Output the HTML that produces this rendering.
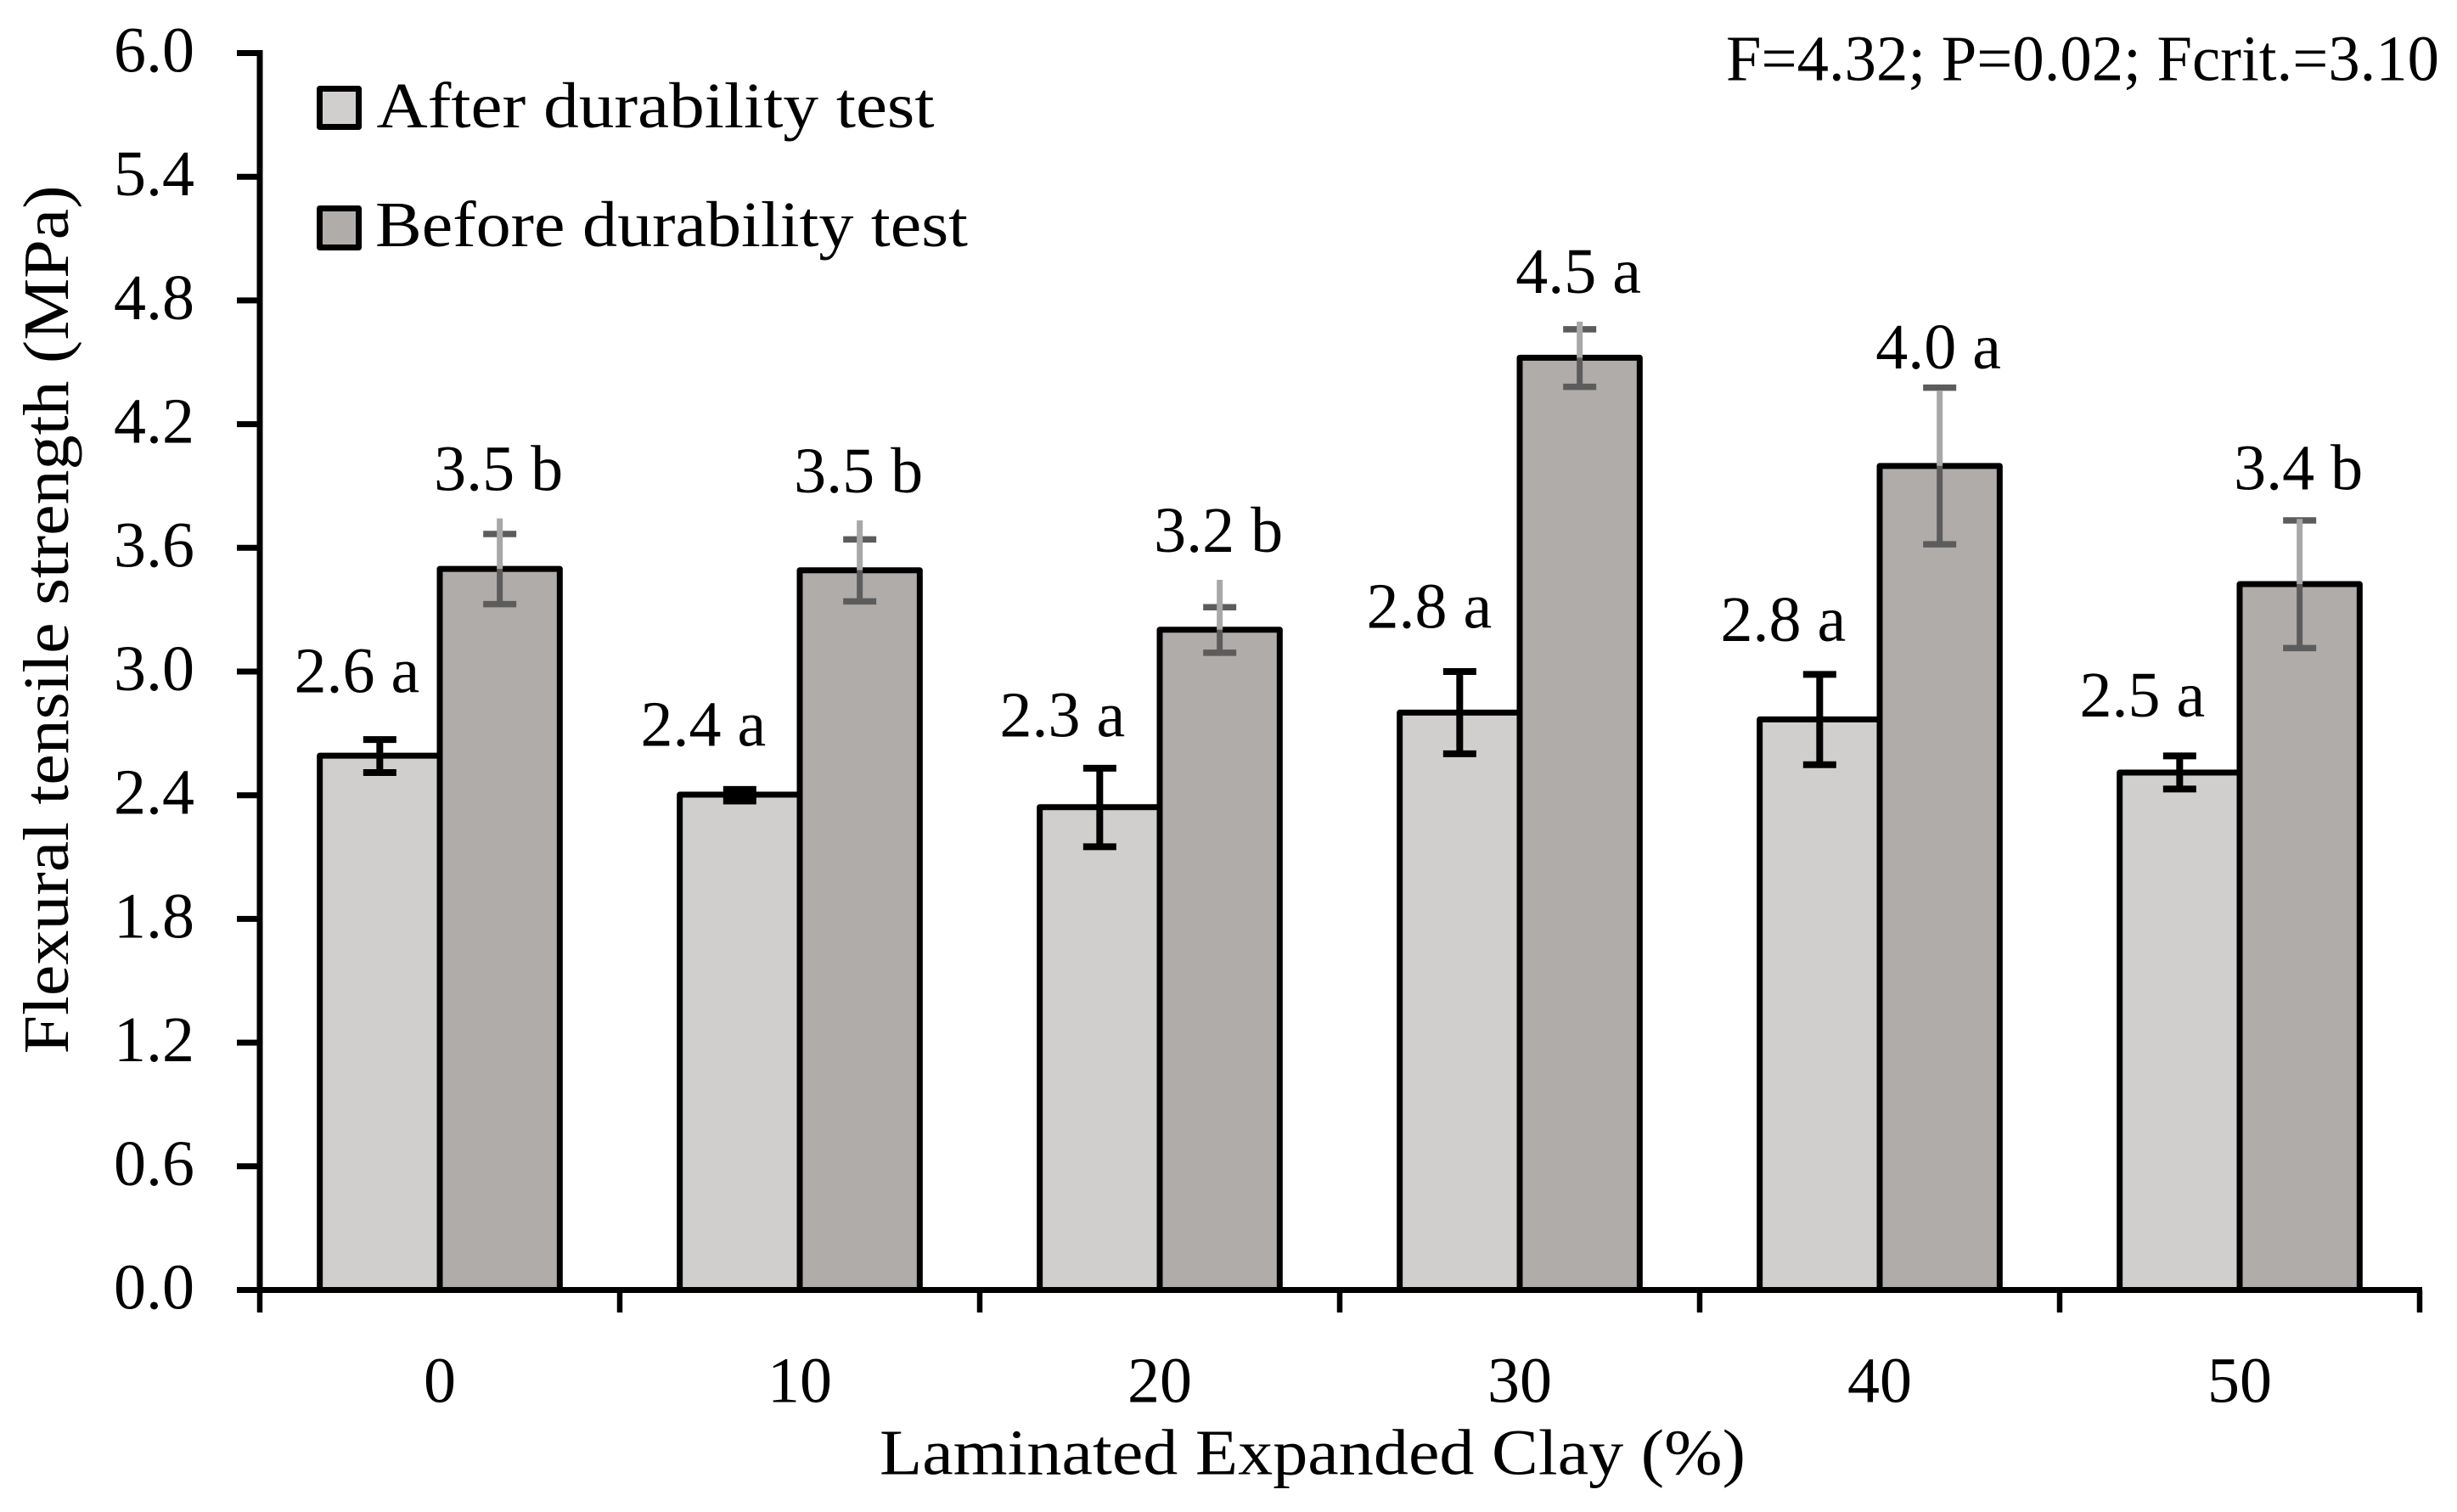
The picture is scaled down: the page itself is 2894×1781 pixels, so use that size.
<!DOCTYPE html>
<html lang="en">
<head>
<meta charset="utf-8">
<title>Flexural tensile strength chart</title>
<style>
html,body{margin:0;padding:0;background:#fff;}
svg{display:block;}
text{font-family:"Liberation Serif","DejaVu Serif",serif;fill:#000;font-size:76px;}
</style>
</head>
<body>
<svg id="chart" xmlns="http://www.w3.org/2000/svg" width="2894" height="1781" viewBox="0 0 2894 1781">
  <rect x="0" y="0" width="2894" height="1781" fill="#ffffff"/>
  <g id="plot"></g>
  <text transform="translate(80,730) rotate(-90)" text-anchor="middle" textLength="1023" lengthAdjust="spacingAndGlyphs">Flexural tensile strength (MPa)</text>
  <text x="1036" y="1736.5" textLength="1020" lengthAdjust="spacingAndGlyphs">Laminated Expanded Clay (%)</text>
  <text x="2033" y="94.7" textLength="840" lengthAdjust="spacingAndGlyphs">F=4.32; P=0.02; Fcrit.=3.10</text>
  <g>
    <g>
      <rect x="376.5" y="104.5" width="46" height="45" fill="#d0cfcd" stroke="#000" stroke-width="7" stroke-linejoin="round"/>
      <text x="443.5" y="150" textLength="657" lengthAdjust="spacingAndGlyphs">After durability test</text>
    </g>
    <g>
      <rect x="376.5" y="245.5" width="46" height="46" fill="#b0acaa" stroke="#000" stroke-width="7" stroke-linejoin="round"/>
      <text x="442" y="290" textLength="698" lengthAdjust="spacingAndGlyphs">Before durability test</text>
    </g>
  </g>
</svg>
<script>
// Data
const categories = ['0', '10', '20', '30', '40', '50'];
const yTickValues = [0, 0.6, 1.2, 1.8, 2.4, 3.0, 3.6, 4.2, 4.8, 5.4, 6.0];
const afterValues = [2.592, 2.403, 2.342, 2.801, 2.768, 2.510];
const beforeValues = [3.498, 3.491, 3.203, 4.522, 3.997, 3.424];
const afterErrHigh = [2.670, 2.428, 2.531, 3.000, 2.986, 2.591];
const afterErrLow = [2.510, 2.372, 2.150, 2.601, 2.548, 2.430];
const beforeErrStemTop = [3.743, 3.733, 3.445, 4.697, 4.360, 3.740];
const beforeErrCap = [3.667, 3.641, 3.312, 4.660, 4.377, 3.733];
const beforeErrLow = [3.327, 3.340, 3.091, 4.381, 3.617, 3.114];
const afterLabels = ['2.6 a', '2.4 a', '2.3 a', '2.8 a', '2.8 a', '2.5 a'];
const beforeLabels = ['3.5 b', '3.5 b', '3.2 b', '4.5 a', '4.0 a', '3.4 b'];

// Layout constants (not data)
const plotLeft = 306, plotRight = 2850, baseY = 1519.5, topY = 62.5, yMax = 6;
const colors = { after: '#d0cfcd', before: '#b0acaa', stemLight: '#a8a8a8', stemDark: '#5c5c5c' };
// Hand placement of the annotations, as they sit in the source figure
const afterLabelDx = [-27, -43, -44, -36, -43, -44];
const afterLabelGap = [55.5, 51.5, 37.5, 51.5, 39.5, 46.5];
const beforeLabelGap = [33, 33, 33, 34, 26.5, 35];

const SVGNS = 'http://www.w3.org/2000/svg';
const plot = document.getElementById('plot');

function yScale(v) { return baseY - (v / yMax) * (baseY - topY); }
function groupLeft(i) { return plotLeft + i * (plotRight - plotLeft) / categories.length; }
function groupStep() { return (plotRight - plotLeft) / categories.length; }
function afterLeft(i) { return groupLeft(i) + groupStep() / 6; }
function midEdge(i) { return groupLeft(i) + groupStep() / 2; }
function beforeRight(i) { return groupLeft(i) + groupStep() * 5 / 6; }

function make(tag, attrs, parent) {
  const el = document.createElementNS(SVGNS, tag);
  for (const k in attrs) el.setAttribute(k, attrs[k]);
  (parent || plot).appendChild(el);
  return el;
}
function line(x1, y1, x2, y2, color, width, parent) {
  return make('line', { x1: x1, y1: y1, x2: x2, y2: y2, stroke: color, 'stroke-width': width }, parent);
}

// Bars
categories.forEach(function (cat, i) {
  const group = make('g', {});
  
  

  const yA = yScale(afterValues[i]);
  const barA = make('rect', { x: afterLeft(i), y: yA, width: midEdge(i) - afterLeft(i), height: baseY - yA, fill: colors.after, stroke: '#000', 'stroke-width': 7, 'stroke-linejoin': 'round' }, group);
  
  

  const yB = yScale(beforeValues[i]);
  const barB = make('rect', { x: midEdge(i), y: yB, width: beforeRight(i) - midEdge(i), height: baseY - yB, fill: colors.before, stroke: '#000', 'stroke-width': 7, 'stroke-linejoin': 'round' }, group);
  
  
});

// Axes
const yAxis = line(plotLeft, topY - 3.5, plotLeft, baseY + 3.5, '#000', 7);


const xAxis = line(plotLeft - 27, baseY, plotRight + 3, baseY, '#000', 7);



yTickValues.forEach(function (v) {
  const tick = line(plotLeft - 27, yScale(v), plotLeft, yScale(v), '#000', 7);
  
  
  const label = make('text', { x: 229, y: yScale(v) + 22, 'text-anchor': 'end' });
  
  
  label.textContent = v.toFixed(1);
});

for (let i = 0; i <= categories.length; i++) {
  const tick = line(groupLeft(i), baseY, groupLeft(i), 1546, '#000', 6.5);
  
  
}
categories.forEach(function (cat, i) {
  const label = make('text', { x: midEdge(i), y: 1651.7, 'text-anchor': 'middle' });
  
  
  label.textContent = cat;
});

// Error bars and value labels
categories.forEach(function (cat, i) {
  const capHalf = 19.5;

  const ax = (afterLeft(i) + midEdge(i)) / 2;
  const errA = make('g', {});
  
  
  line(ax, yScale(afterErrHigh[i]), ax, yScale(afterErrLow[i]), '#000', 8, errA);
  line(ax - capHalf, yScale(afterErrHigh[i]), ax + capHalf, yScale(afterErrHigh[i]), '#000', 8, errA);
  line(ax - capHalf, yScale(afterErrLow[i]), ax + capHalf, yScale(afterErrLow[i]), '#000', 8, errA);

  const bx = (midEdge(i) + beforeRight(i)) / 2;
  const errB = make('g', {});
  
  
  line(bx - capHalf, yScale(beforeErrCap[i]), bx + capHalf, yScale(beforeErrCap[i]), colors.stemDark, 7.5, errB);
  line(bx - capHalf, yScale(beforeErrLow[i]), bx + capHalf, yScale(beforeErrLow[i]), colors.stemDark, 7.5, errB);
  line(bx, yScale(beforeValues[i]), bx, yScale(beforeErrLow[i]), colors.stemDark, 7, errB);
  line(bx, yScale(beforeErrStemTop[i]), bx, yScale(beforeValues[i]), colors.stemLight, 7, errB);

  const labelA = make('text', { x: ax + afterLabelDx[i], y: yScale(afterErrHigh[i]) - afterLabelGap[i], 'text-anchor': 'middle' });
  
  
  labelA.textContent = afterLabels[i];

  const labelB = make('text', { x: bx - 1.5, y: yScale(beforeErrStemTop[i]) - beforeLabelGap[i], 'text-anchor': 'middle' });
  
  
  labelB.textContent = beforeLabels[i];
});
</script>
</body>
</html>
